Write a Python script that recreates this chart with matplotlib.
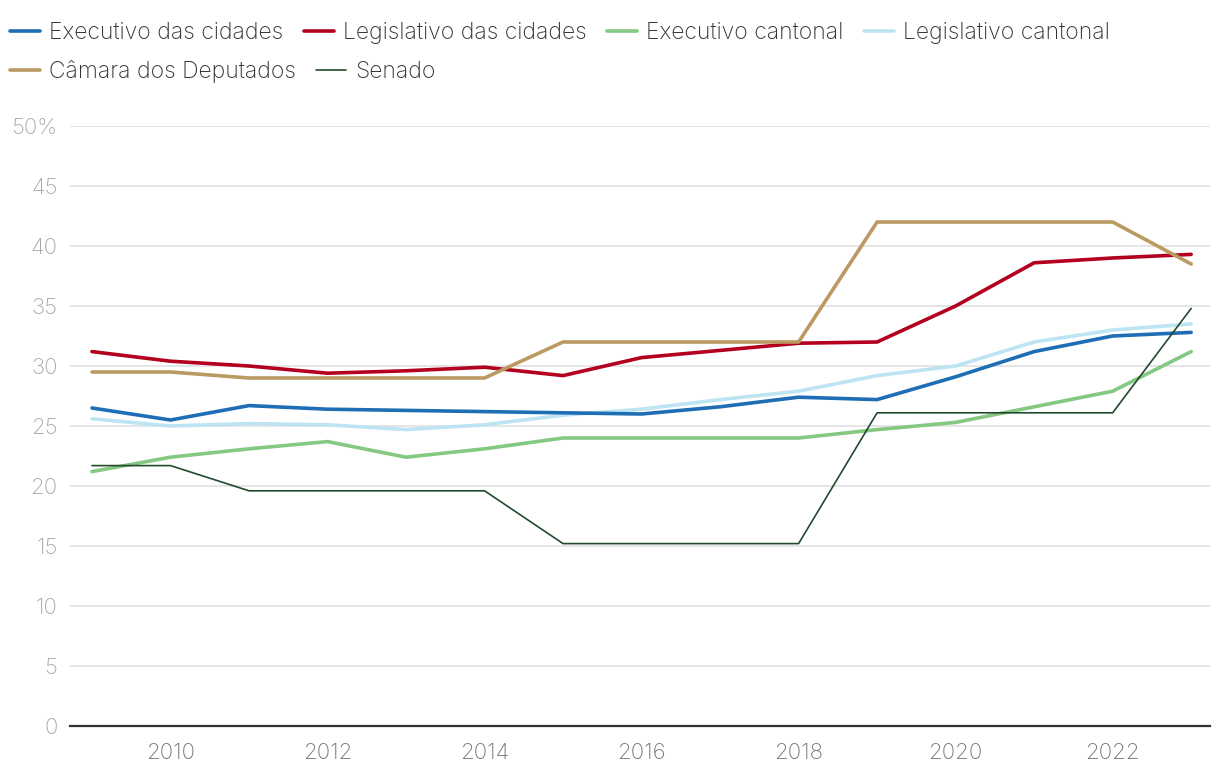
import matplotlib
matplotlib.use("Agg")
import matplotlib.pyplot as plt
from matplotlib.ticker import FixedLocator

years = list(range(2009, 2024))
exec_cidades = [26.5, 25.5, 26.7, 26.4, 26.3, 26.2, 26.1, 26.0, 26.6, 27.4, 27.2, 29.1, 31.2, 32.5, 32.8]
legis_cidades = [31.2, 30.4, 30.0, 29.4, 29.6, 29.9, 29.2, 30.7, 31.3, 31.9, 32.0, 35.0, 38.6, 39.0, 39.3]
exec_cantonal = [21.2, 22.4, 23.1, 23.7, 22.4, 23.1, 24.0, 24.0, 24.0, 24.0, 24.7, 25.3, 26.6, 27.9, 31.2]
legis_cantonal = [25.6, 25.0, 25.2, 25.1, 24.7, 25.1, 25.9, 26.4, 27.2, 27.9, 29.2, 30.0, 32.0, 33.0, 33.5]
camara = [29.5, 29.5, 29.0, 29.0, 29.0, 29.0, 32.0, 32.0, 32.0, 32.0, 42.0, 42.0, 42.0, 42.0, 38.5]
senado = [21.7, 21.7, 19.6, 19.6, 19.6, 19.6, 15.2, 15.2, 15.2, 15.2, 26.1, 26.1, 26.1, 26.1, 34.8]

labels = ["Executivo das cidades", "Legislativo das cidades", "Executivo cantonal",
          "Legislativo cantonal", "Câmara dos Deputados", "Senado"]
colors = ["#1f6db5", "#b3001f", "#84c882", "#bde4f3", "#bb9a62", "#234a2c"]

y_ticks = [0, 5, 10, 15, 20, 25, 30, 35, 40, 45, 50]
y_tick_labels = ["0", "5", "10", "15", "20", "25", "30", "35", "40", "45", "50%"]
x_ticks = [2010, 2012, 2014, 2016, 2018, 2020, 2022]

plt.rcParams['font.family'] = ['Inter', 'DejaVu Sans']

fig = plt.figure(figsize=(12.2, 7.78), dpi=100)
ax = fig.add_axes([70/1220, 52/778, 1140/1220, 600/778])

series = [exec_cidades, legis_cidades, exec_cantonal, legis_cantonal, camara, senado]
handles = []
for s, c, lab in zip(series, colors, labels):
    lw = 1.2 if lab == "Senado" else 2.6
    h, = ax.plot(years, s, color=c, lw=lw, label=lab, solid_capstyle='round', zorder=3)
    handles.append(h)
handles[3].set_zorder(2.5)

ax.set_xlim(2008.72, 2023.24)
ax.set_ylim(0, 50)
ax.yaxis.set_major_locator(FixedLocator(y_ticks))
ax.set_yticklabels(y_tick_labels)
ax.xaxis.set_major_locator(FixedLocator(x_ticks))
ax.set_xticklabels([str(x) for x in x_ticks])

ax.grid(axis='y', color='#e3e3e3', lw=1.3, zorder=0)
for sp in ['top', 'right', 'left']:
    ax.spines[sp].set_visible(False)
ax.spines['bottom'].set_color('#333333')
ax.spines['bottom'].set_linewidth(1.6)
ax.spines['bottom'].set_zorder(4)
ax.tick_params(axis='y', length=0, pad=9, labelsize=16, labelcolor='#a8a8a8')
ax.tick_params(axis='x', length=0, pad=12, labelsize=16, labelcolor='#777777')
for t in ax.get_yticklabels() + ax.get_xticklabels():
    t.set_fontweight('light')

common = dict(loc='upper left', frameon=False, fontsize=16.5, handlelength=1.3,
              handletextpad=0.4, columnspacing=0.9, borderaxespad=0, borderpad=0)
leg1 = fig.legend(handles=handles[:4], bbox_to_anchor=(10/1220, 1 - 22/778), ncol=4, **common)
leg2 = fig.legend(handles=handles[4:], bbox_to_anchor=(10/1220, 1 - 60/778), ncol=2, **common)
for leg in (leg1, leg2):
    for t in leg.get_texts():
        t.set_color('#333333')
        t.set_fontweight('light')

fig.savefig("out.png", dpi=100)
